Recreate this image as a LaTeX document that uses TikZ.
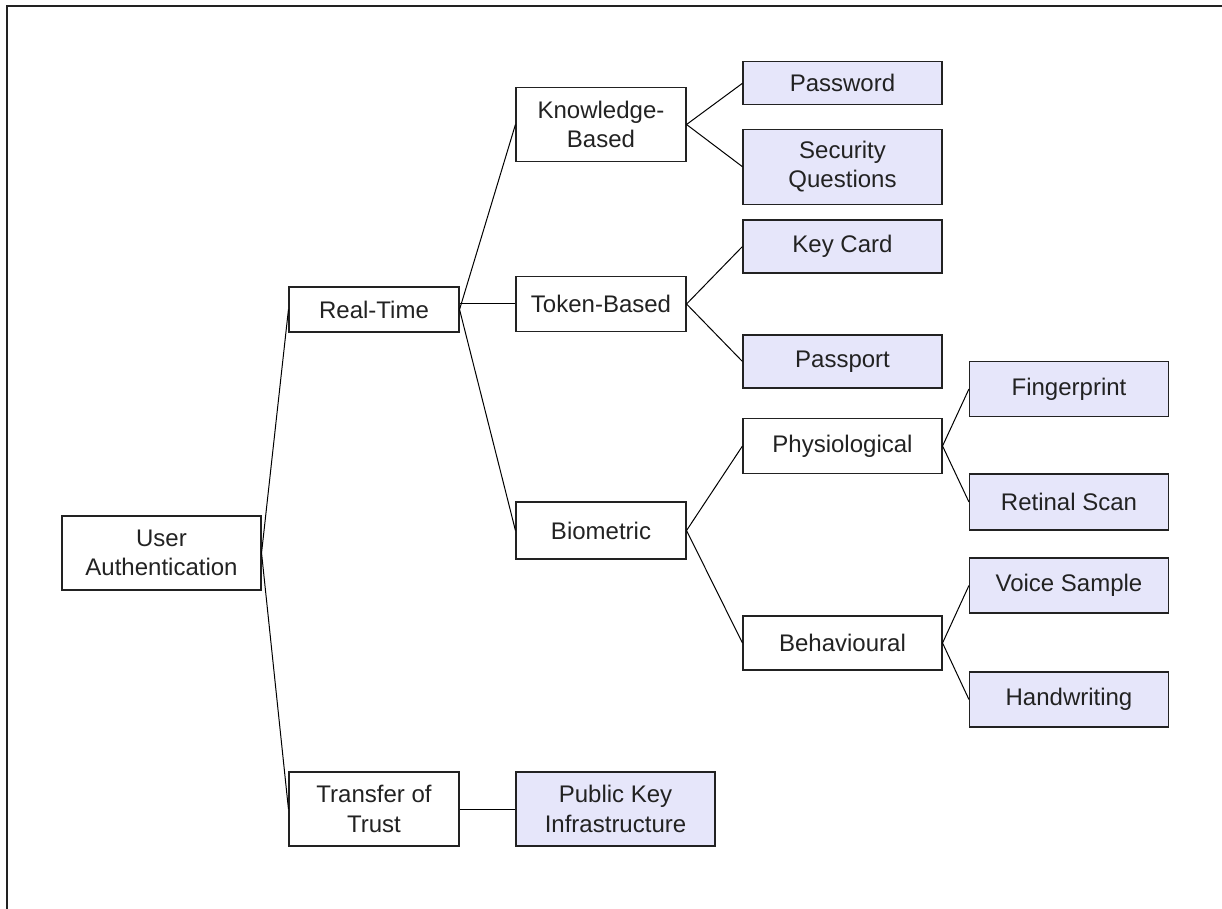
\documentclass[tikz,border=0pt]{standalone}
\usepackage{fontspec}
\setmainfont{Liberation Sans}
\definecolor{leaffill}{HTML}{E6E6FA}
\definecolor{ink}{HTML}{222222}
\begin{document}
\begin{tikzpicture}[x=0.5pt,y=-0.5pt,
  box/.style={draw=ink, line width=0.55pt, inner sep=0pt, align=center,
    text=ink, font=\fontsize{12}{14.6}\selectfont},
  leaf/.style={box, fill=leaffill},
  narrow/.style={minimum width=85pt},
  wide/.style={minimum width=99.5pt},
  link/.style={draw=black, line width=0.5pt}]
\useasboundingbox (0,0) rectangle (1222,909);
% frame along the top and left edges
\draw[line width=1pt, ink] (6.5,909) -- (6.5,6.5) -- (1222,6.5);

% root
\node[box, wide, minimum height=37pt] (ua) at (161.5,553) {User\\Authentication};
% first level
\node[box, narrow, minimum height=22.5pt] (rt) at (374,309.5) {Real-Time};
\node[box, narrow, minimum height=37pt] (tt) at (374,809) {Transfer of\\Trust};
% second level
\node[box, narrow, minimum height=37pt] (kb) at (601,124.5) {Knowledge-\\Based};
\node[box, narrow, minimum height=27.5pt] (tb) at (601,304) {Token-Based};
\node[box, narrow, minimum height=28.5pt] (bio) at (601,530.5) {Biometric};
\node[leaf, wide, minimum height=37pt] (pki) at (615.5,809) {Public Key\\Infrastructure};
% third level
\node[leaf, wide, minimum height=21.5pt] (pw) at (842.5,83.3) {Password};
\node[leaf, wide, minimum height=37.5pt] (sq) at (842.5,166.7) {Security\\Questions};
\node[leaf, wide, minimum height=26.5pt] (kc) at (842.5,246.5) {Key Card};
\node[leaf, wide, minimum height=26.5pt] (pp) at (842.5,361.5) {Passport};
\node[box, wide, minimum height=27.5pt] (phy) at (842.5,446) {Physiological};
\node[box, wide, minimum height=27pt] (beh) at (842.5,643) {Behavioural};
% fourth level
\node[leaf, wide, minimum height=27.5pt] (fp) at (1069,389) {Fingerprint};
\node[leaf, wide, minimum height=28pt] (rs) at (1069,502) {Retinal Scan};
\node[leaf, wide, minimum height=27.5pt] (vs) at (1069,585.5) {Voice Sample};
\node[leaf, wide, minimum height=27.5pt] (hw) at (1069,699.5) {Handwriting};

% connectors
\draw[link] (ua.east) -- (rt.west);
\draw[link] (ua.east) -- (tt.west);
\draw[link] (rt.east) -- (kb.west);
\draw[link] (tb.west -| rt.east) -- (tb.west);
\draw[link] (rt.east) -- (bio.west);
\draw[link] (tt.east) -- (pki.west);
\draw[link] (kb.east) -- (pw.west);
\draw[link] (kb.east) -- (sq.west);
\draw[link] (tb.east) -- (kc.west);
\draw[link] (tb.east) -- (pp.west);
\draw[link] (bio.east) -- (phy.west);
\draw[link] (bio.east) -- (beh.west);
\draw[link] (phy.east) -- (fp.west);
\draw[link] (phy.east) -- (rs.west);
\draw[link] (beh.east) -- (vs.west);
\draw[link] (beh.east) -- (hw.west);
\end{tikzpicture}
\end{document}
